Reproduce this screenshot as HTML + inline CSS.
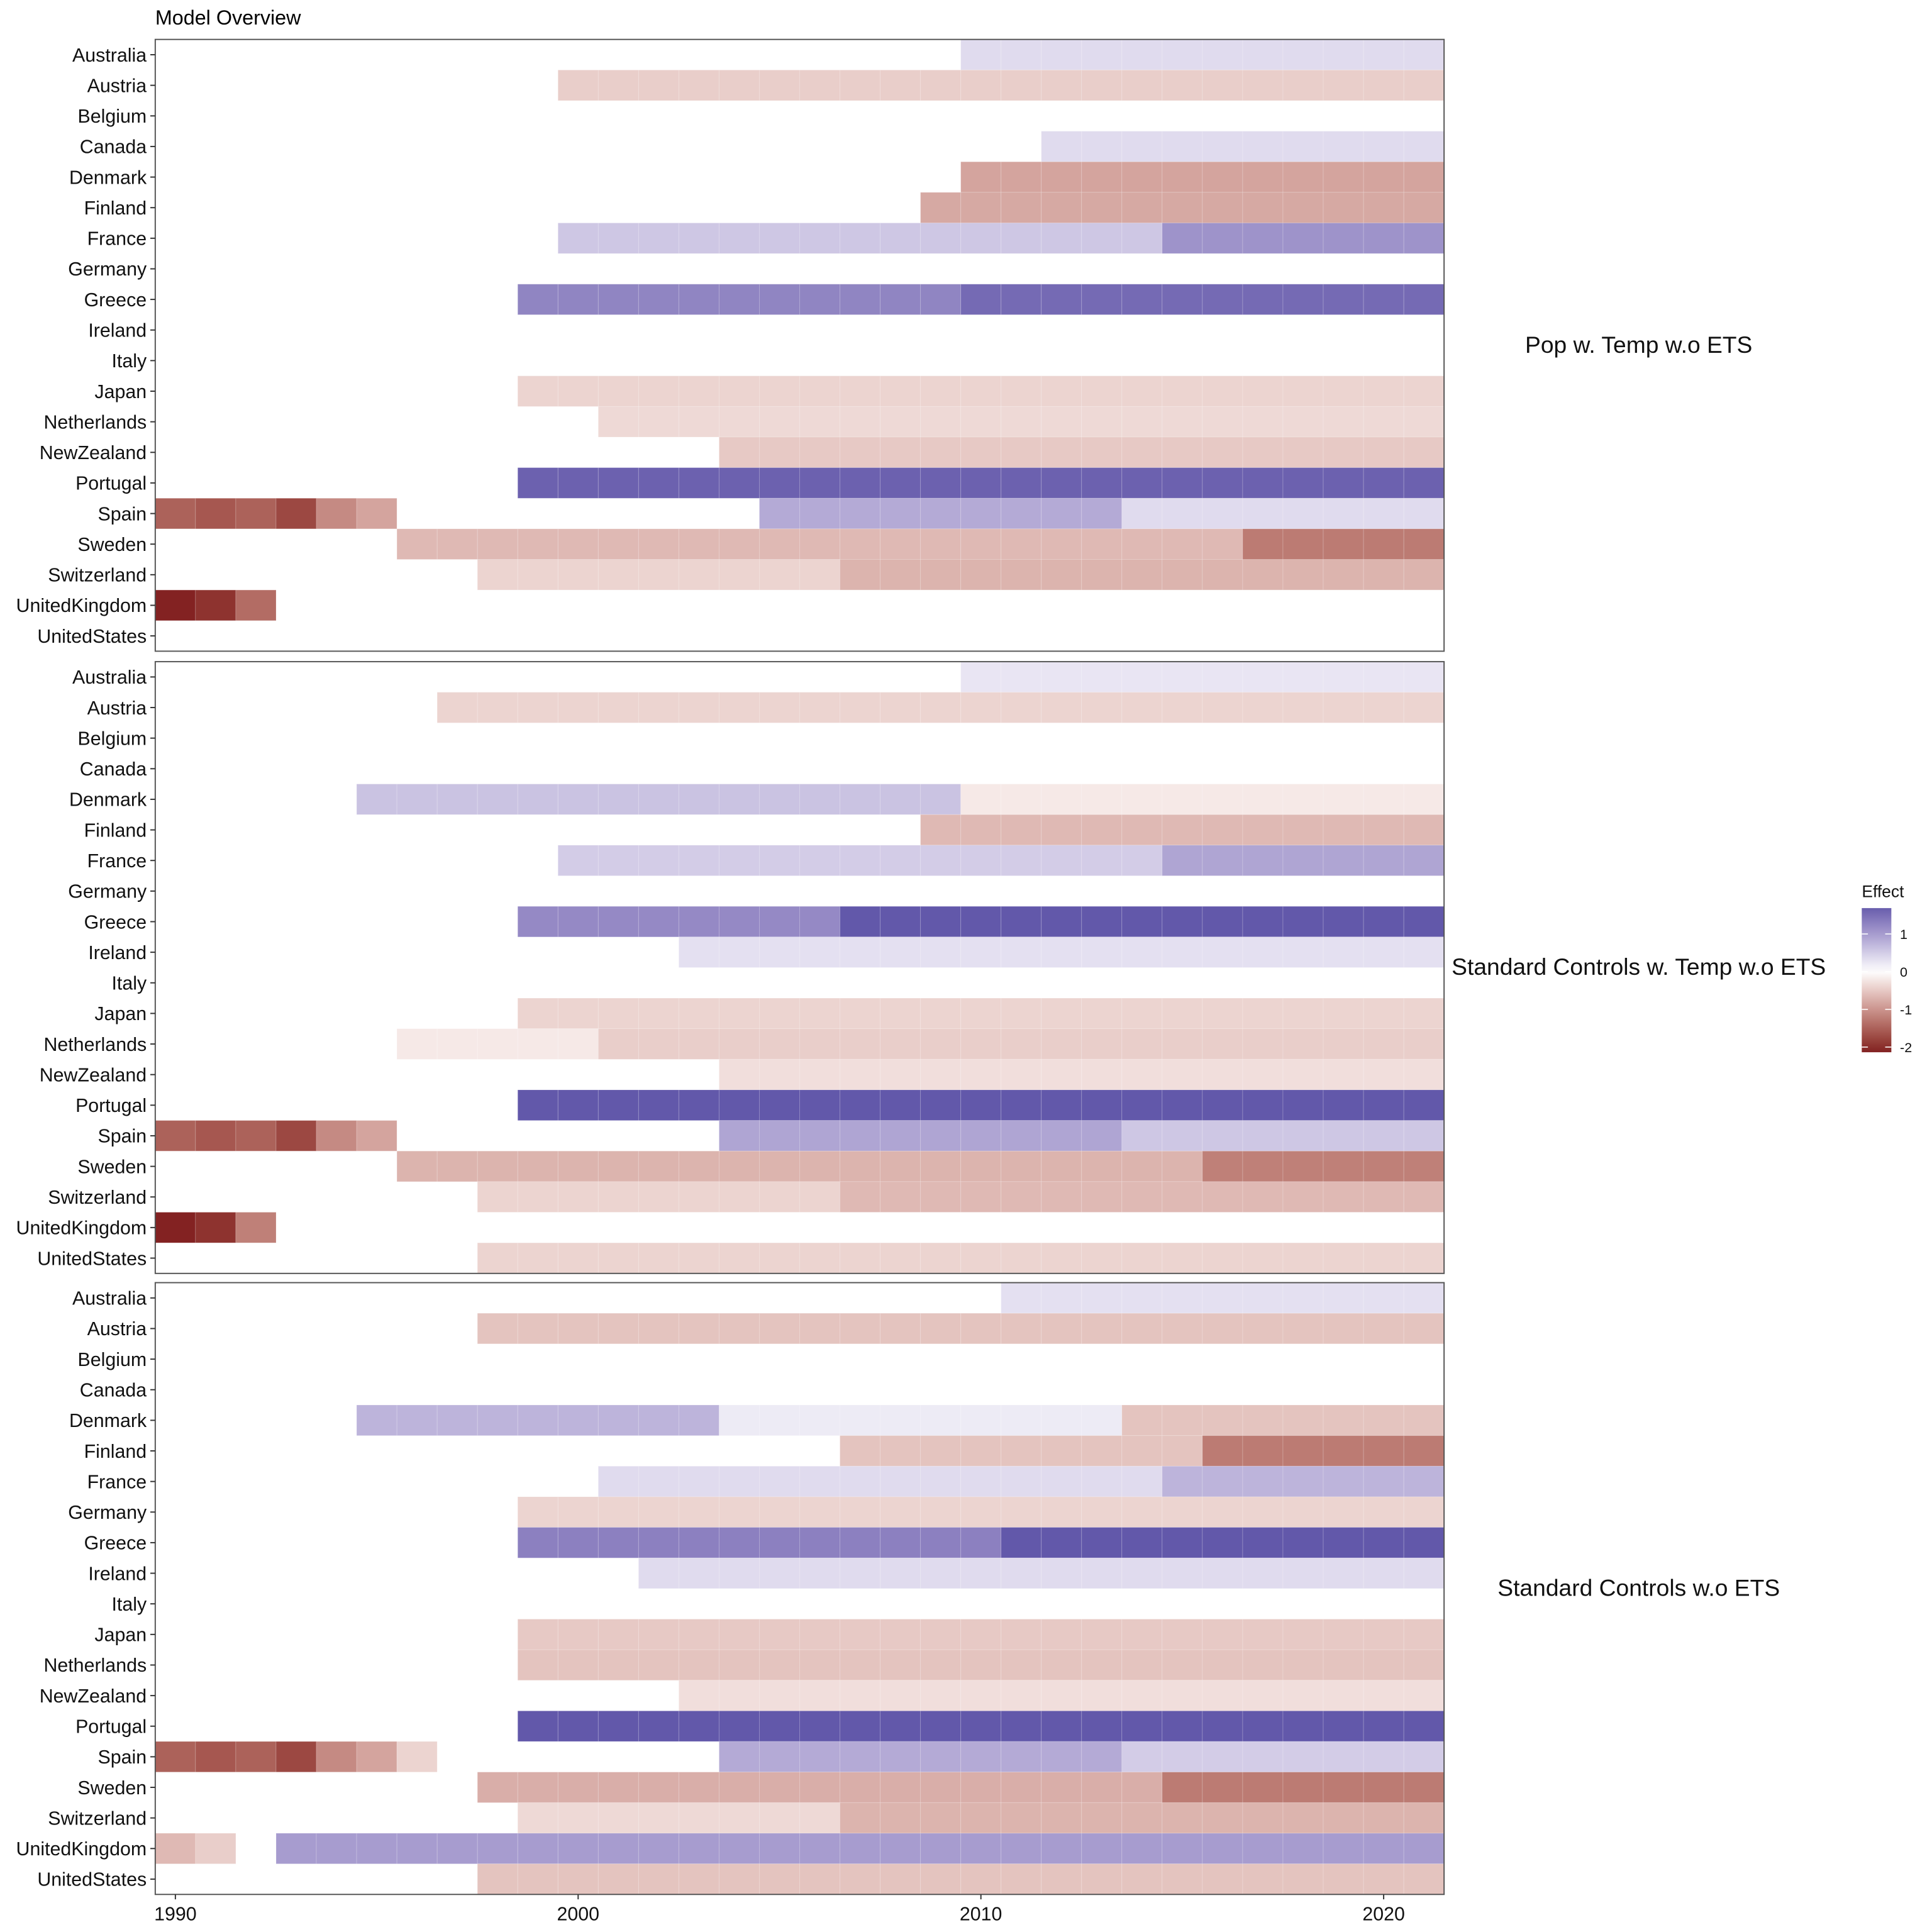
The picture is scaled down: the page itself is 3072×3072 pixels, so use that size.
<!DOCTYPE html>
<html><head><meta charset="utf-8"><style>
html,body{margin:0;padding:0;background:#fff}
svg{display:block;font-family:"Liberation Sans",Arial,sans-serif}
</style></head><body>
<svg id="chart" xmlns="http://www.w3.org/2000/svg" width="3072" height="3072" viewBox="0 0 1568 1568">
<text x="126" y="20" font-size="16.5" fill="#000">Model Overview</text>
<g id="panels"></g>
<g id="legend"></g>
</svg>
<script>
const countries = ["Australia","Austria","Belgium","Canada","Denmark","Finland","France","Germany","Greece","Ireland","Italy","Japan","Netherlands","NewZealand","Portugal","Spain","Sweden","Switzerland","UnitedKingdom","UnitedStates"];
const panelTitles = ["Pop w. Temp w.o ETS","Standard Controls w. Temp w.o ETS","Standard Controls w.o ETS"];
const yearMin = 1990, yearMax = 2021;
const xTicks = [1990,2000,2010,2020];
const legendTicks = [1,0,-1,-2];
// segments: [country, startYear, endYear, effect]
const panel1 = [
["Australia",2010,2021,0.35],["Austria",2000,2021,-0.45],["Canada",2012,2021,0.35],
["Denmark",2010,2021,-0.85],["Finland",2009,2021,-0.8],["France",2000,2014,0.55],["France",2015,2021,1.1],
["Greece",1999,2009,1.25],["Greece",2010,2021,1.55],["Japan",1999,2021,-0.4],["Netherlands",2001,2021,-0.35],
["NewZealand",2004,2021,-0.5],["Portugal",1999,2021,1.65],
["Spain",1990,1990,-1.5],["Spain",1991,1991,-1.6],["Spain",1992,1992,-1.5],["Spain",1993,1993,-1.75],["Spain",1994,1994,-1.1],["Spain",1995,1995,-0.85],
["Spain",2005,2013,0.85],["Spain",2014,2021,0.35],
["Sweden",1996,2016,-0.65],["Sweden",2017,2021,-1.25],["Switzerland",1998,2006,-0.4],["Switzerland",2007,2021,-0.7],
["UnitedKingdom",1990,1990,-2.1],["UnitedKingdom",1991,1991,-1.95],["UnitedKingdom",1992,1992,-1.4]
];
const panel2 = [
["Australia",2010,2021,0.25],["Austria",1997,2021,-0.4],["Denmark",1995,2009,0.6],["Denmark",2010,2021,-0.2],
["Finland",2009,2021,-0.65],["France",2000,2014,0.5],["France",2015,2021,0.9],["Greece",1999,2006,1.2],["Greece",2007,2021,1.75],
["Ireland",2003,2021,0.3],["Japan",1999,2021,-0.4],["Netherlands",1996,2000,-0.2],["Netherlands",2001,2021,-0.45],
["NewZealand",2004,2021,-0.3],["Portugal",1999,2021,1.75],
["Spain",1990,1990,-1.5],["Spain",1991,1991,-1.6],["Spain",1992,1992,-1.5],["Spain",1993,1993,-1.75],["Spain",1994,1994,-1.1],["Spain",1995,1995,-0.85],
["Spain",2004,2013,0.9],["Spain",2014,2021,0.55],
["Sweden",1996,2015,-0.7],["Sweden",2016,2021,-1.2],["Switzerland",1998,2006,-0.4],["Switzerland",2007,2021,-0.65],
["UnitedKingdom",1990,1990,-2.1],["UnitedKingdom",1991,1991,-1.95],["UnitedKingdom",1992,1992,-1.2],["UnitedStates",1998,2021,-0.4]
];
const panel3 = [
["Australia",2011,2021,0.3],["Austria",1998,2021,-0.55],["Denmark",1995,2003,0.75],["Denmark",2004,2013,0.2],["Denmark",2014,2021,-0.55],
["Finland",2007,2015,-0.55],["Finland",2016,2021,-1.25],["France",2001,2014,0.35],["France",2015,2021,0.75],["Germany",1999,2021,-0.4],
["Greece",1999,2010,1.3],["Greece",2011,2021,1.75],["Ireland",2002,2021,0.35],["Japan",1999,2021,-0.5],["Netherlands",1999,2021,-0.55],
["NewZealand",2003,2021,-0.3],["Portugal",1999,2021,1.75],
["Spain",1990,1990,-1.5],["Spain",1991,1991,-1.6],["Spain",1992,1992,-1.5],["Spain",1993,1993,-1.75],["Spain",1994,1994,-1.1],["Spain",1995,1995,-0.85],["Spain",1996,1996,-0.4],
["Spain",2004,2013,0.85],["Spain",2014,2021,0.5],
["Sweden",1998,2014,-0.75],["Sweden",2015,2021,-1.25],["Switzerland",1999,2006,-0.35],["Switzerland",2007,2021,-0.7],
["UnitedKingdom",1990,1990,-0.65],["UnitedKingdom",1991,1991,-0.45],["UnitedKingdom",1993,2021,1.0],["UnitedStates",1998,2021,-0.55]
];
const panelsData = [panel1,panel2,panel3];

const NS="http://www.w3.org/2000/svg";
const X0=126, X1=1172, panelTops=[32,537,1041], PH=496.5;
const colW=(X1-X0)/(yearMax-yearMin+1);
function xScale(y){return X0+(y-yearMin)*colW;}
function rowH(){return PH/countries.length;}
function yScale(c,top){return top+countries.indexOf(c)*rowH();}
function s2l(c){c/=255;return c<=0.04045?c/12.92:Math.pow((c+0.055)/1.055,2.4);}
function l2s(c){c=c<=0.0031308?12.92*c:1.055*Math.pow(c,1/2.4)-0.055;return Math.max(0,Math.min(255,Math.round(c*255)));}
function toLab(rgb){const r=s2l(rgb[0]),g=s2l(rgb[1]),b=s2l(rgb[2]);
 let x=(0.4124*r+0.3576*g+0.1805*b)/0.95047,y=(0.2126*r+0.7152*g+0.0722*b),z=(0.0193*r+0.1192*g+0.9505*b)/1.08883;
 const f=t=>t>0.008856?Math.cbrt(t):7.787*t+16/116;const fx=f(x),fy=f(y),fz=f(z);
 return [116*fy-16,500*(fx-fy),200*(fy-fz)];}
function fromLab(L){const fy=(L[0]+16)/116,fx=fy+L[1]/500,fz=fy-L[2]/200;
 const fi=t=>t*t*t>0.008856?t*t*t:(t-16/116)/7.787;
 const x=fi(fx)*0.95047,y=fi(fy),z=fi(fz)*1.08883;
 const r=3.2406*x-1.5372*y-0.4986*z,g=-0.9689*x+1.8758*y+0.0415*z,b=0.0557*x-0.2040*y+1.0570*z;
 return [l2s(r),l2s(g),l2s(b)];}
const LOWLAB=toLab([131,34,34]), HIGHLAB=toLab([98,88,170]), WLAB=toLab([255,255,255]);
function color(v){
  let t,c;
  if(v<0){t=Math.min(1,-v/2.1);c=LOWLAB;}else{t=Math.min(1,v/1.75);c=HIGHLAB;}
  const L=[0,1,2].map(i=>WLAB[i]+(c[i]-WLAB[i])*t);
  const rgb=fromLab(L);
  return `rgb(${rgb[0]},${rgb[1]},${rgb[2]})`;
}
function mk(tag,attrs,parent){const e=document.createElementNS(NS,tag);for(const k in attrs)e.setAttribute(k,attrs[k]);parent.appendChild(e);return e;}
const root=document.getElementById('panels');
panelsData.forEach((data,pi)=>{
  const top=panelTops[pi];
  const g=mk('g',{},root);
  
  
  data.forEach(seg=>{
    for(let yr=seg[1];yr<=seg[2];yr++){
      const r=mk('rect',{x:xScale(yr),y:yScale(seg[0],top),width:colW,height:rowH(),fill:color(seg[3]),stroke:'rgba(255,255,255,0.2)','stroke-width':0.5},g);
      
      
    }
  });
  const fr=mk('rect',{x:X0,y:top,width:X1-X0,height:PH,fill:'none',stroke:'#555','stroke-width':1},g);
  
  
  countries.forEach((c,i)=>{
    const cy=top+(i+0.5)*rowH();
    mk('line',{x1:X0-4,x2:X0,y1:cy,y2:cy,stroke:'#333','stroke-width':1},g);
    const t=mk('text',{x:X0-7,y:cy+5.5,'text-anchor':'end','font-size':15.5,fill:'#111'},g);
    t.textContent=c;
    
    
  });
  const st=mk('text',{x:1330,y:top+PH/2+6,'text-anchor':'middle','font-size':19,fill:'#111'},g);
  st.textContent=panelTitles[pi];
  
  
});
const axG=mk('g',{},root);


const axisY=panelTops[2]+PH;
xTicks.forEach(yr=>{
  const x=xScale(yr)+colW/2;
  mk('line',{x1:x,x2:x,y1:axisY,y2:axisY+4,stroke:'#333','stroke-width':1},axG);
  const t=mk('text',{x:x,y:axisY+21,'text-anchor':'middle','font-size':15.5,fill:'#111'},axG);
  t.textContent=yr;
  
  
});
const lg=document.getElementById('legend');
const defs=mk('defs',{},lg);
const grad=mk('linearGradient',{id:'lgGrad',x1:0,y1:0,x2:0,y2:1},defs);
const LT=737, LB=854, zero=788.6, unit=30.6;
for(let i=0;i<=20;i++){
  const yy=LT+(LB-LT)*i/20; const v=(zero-yy)/unit;
  mk('stop',{offset:(i/20),'stop-color':color(v)},grad);
}
const lt=mk('text',{x:1511,y:728,'font-size':13.5,fill:'#111'},lg);
lt.textContent='Effect';


mk('rect',{x:1511,y:LT,width:24,height:LB-LT,fill:'url(#lgGrad)'},lg);
legendTicks.forEach(v=>{
  const yy=zero-v*unit;
  mk('line',{x1:1511,x2:1516,y1:yy,y2:yy,stroke:'#fff','stroke-width':0.8},lg);
  mk('line',{x1:1530,x2:1535,y1:yy,y2:yy,stroke:'#fff','stroke-width':0.8},lg);
  const t=mk('text',{x:1542,y:yy+4,'font-size':11,fill:'#111'},lg);
  t.textContent=v;
  
  
});
</script>
</body></html>
